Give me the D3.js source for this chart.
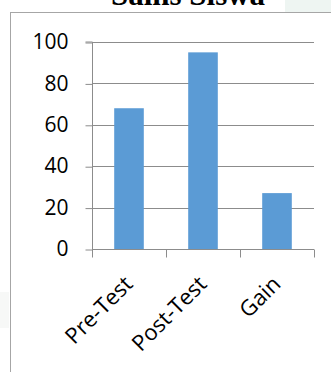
<!DOCTYPE html>
<html>
<head>
<meta charset="utf-8">
<script src="https://cdn.jsdelivr.net/npm/d3@7"></script>
<style>
  html, body { margin: 0; padding: 0; background: #ffffff; }
  svg { display: block; }
</style>
</head>
<body>
<div id="chart"></div>
<script>
// Chart data
const categories = ["Pre-Test", "Post-Test", "Gain"];
const scores = [68, 95, 27];
const yTicks = [0, 20, 40, 60, 80, 100];
const titleText = "Sains Siswa";

const W = 331, H = 372;
const plot = { left: 92, right: 314, top: 42, bottom: 249 };

const svg = d3.select("#chart").append("svg")
  .attr("width", W).attr("height", H);

// faint page background outside the chart frame
svg.append("rect").attr("x", 0).attr("y", 0).attr("width", W).attr("height", H).attr("fill", "#ffffff");
svg.append("rect").attr("x", 285).attr("y", 0).attr("width", 46).attr("height", 12).attr("fill", "#eef5f2");
svg.append("rect").attr("x", 0).attr("y", 292).attr("width", 9).attr("height", 36).attr("fill", "#f7f8f7");

// chart frame (left and top edges visible)
svg.append("rect")
  .attr("x", 10.5).attr("y", 12.5)
  .attr("width", W).attr("height", H)
  .attr("fill", "#ffffff")
  .attr("stroke", "#a6a6a6").attr("stroke-width", 1);

// title, mostly clipped at the top edge
svg.append("text")
  .attr("x", 188).attr("y", 5)
  .attr("text-anchor", "middle")
  .attr("font-family", "'Liberation Serif', 'Times New Roman', serif")
  .attr("font-weight", "bold")
  .attr("font-size", 31)
  .attr("fill", "#000")
  .text(titleText);

const x = d3.scaleBand().domain(categories).range([plot.left, plot.right]).padding(0);
const y = d3.scaleLinear().domain([0, 100]).range([plot.bottom, plot.top]);

const gridColor = "#8c8c8c";
const font = "'Open Sans', 'Liberation Sans', sans-serif";

// horizontal gridlines
svg.append("g").selectAll("line")
  .data(yTicks.filter(d => d > 0))
  .join("line")
  .attr("x1", plot.left).attr("x2", plot.right)
  .attr("y1", d => Math.round(y(d)) + 0.5).attr("y2", d => Math.round(y(d)) + 0.5)
  .attr("stroke", gridColor).attr("stroke-width", 1);

// y axis
const yAxis = svg.append("g")
  .attr("transform", `translate(${plot.left + 0.5},0)`)
  .call(d3.axisLeft(y).tickValues(yTicks).tickSize(7).tickPadding(17).tickFormat(d3.format("d")));
yAxis.select(".domain").attr("stroke", gridColor).attr("d", `M-7,${y(100)}H0V${y(0)}`);
yAxis.selectAll(".tick line").attr("stroke", gridColor).attr("transform", "translate(0,0.5)");
yAxis.selectAll(".tick text")
  .attr("font-family", font).attr("font-size", 21).attr("fill", "#000");

// bars
const barW = x.bandwidth() * 0.4;
svg.append("g").selectAll("rect")
  .data(scores)
  .join("rect")
  .attr("x", (d, i) => x(categories[i]) + (x.bandwidth() - barW) / 2)
  .attr("y", d => y(d))
  .attr("width", barW)
  .attr("height", d => y(0) - y(d))
  .attr("fill", "#5b9bd5");

// x axis with ticks at band boundaries
const xg = svg.append("g").attr("transform", `translate(0,${Math.round(plot.bottom) + 0.5})`);
xg.append("line")
  .attr("x1", plot.left).attr("x2", plot.right)
  .attr("stroke", gridColor);
const bounds = categories.map(c => x(c)).concat([plot.right]);
xg.selectAll("line.tk")
  .data(bounds)
  .join("line").attr("class", "tk")
  .attr("x1", d => Math.round(d) + 0.5).attr("x2", d => Math.round(d) + 0.5)
  .attr("y1", 0).attr("y2", 8)
  .attr("stroke", gridColor);

// rotated category labels
xg.selectAll("text")
  .data(categories)
  .join("text")
  .attr("transform", d => `translate(${x(d) + x.bandwidth() / 2 + 5},${36}) rotate(-45)`)
  .attr("text-anchor", "end")
  .attr("font-family", font)
  .attr("font-size", 22)
  .attr("fill", "#000")
  .text(d => d);
</script>
</body>
</html>
